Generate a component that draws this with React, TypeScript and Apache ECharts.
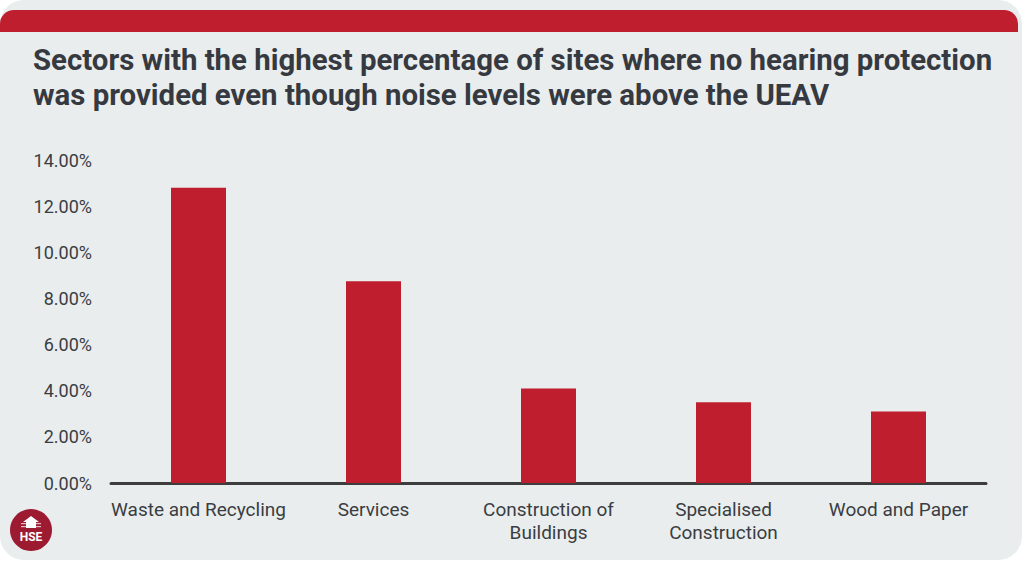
import React, { useEffect, useRef } from "react";
import * as echarts from "echarts";

const categories = [
  "Waste and Recycling",
  "Services",
  "Construction of\nBuildings",
  "Specialised\nConstruction",
  "Wood and Paper",
];
const percentages = [12.8, 8.75, 4.1, 3.5, 3.1];
const yTicks = { min: 0, max: 14, interval: 2 };

const RED = "#be1e2d";
const TEXT = "#3a3d42";

const App = () => {
  const chartRef = useRef<HTMLDivElement>(null);

  useEffect(() => {
    if (!chartRef.current) return;
    const chart = echarts.init(chartRef.current, null, { renderer: "svg" });

    const option: echarts.EChartsCoreOption = {
      animation: false,
      backgroundColor: "#ffffff",
      title: {
        text: "Sectors with the highest percentage of sites where no hearing protection\nwas provided even though noise levels were above the UEAV",
        left: 33,
        top: 42,
        padding: 0,
        textStyle: {
          fontFamily: "Roboto",
          fontWeight: "bold",
          fontSize: 29.4,
          lineHeight: 35,
          color: "#363a40",
        },
      },
      graphic: [
        {
          type: "rect",
          z: -10,
          shape: { x: 0, y: 0, width: 1022, height: 560, r: 24 },
          style: { fill: "#e9edee" },
        },
        {
          type: "rect",
          z: -9,
          shape: { x: 0, y: 10, width: 1018, height: 22, r: [14, 14, 0, 0] },
          style: { fill: RED },
        },
        {
          type: "group",
          left: 10,
          top: 509,
          children: [
            {
              type: "circle",
              shape: { cx: 21, cy: 21, r: 21 },
              style: { fill: "#9c1b31" },
            },
            {
              type: "polygon",
              shape: {
                points: [
                  [21, 7],
                  [29, 13],
                  [26, 13],
                  [26, 19],
                  [16, 19],
                  [16, 13],
                  [13, 13],
                ],
              },
              style: { fill: "#ffffff" },
            },
            {
              type: "rect",
              shape: { x: 11, y: 14, width: 20, height: 1.2 },
              style: { fill: "#ffffff", opacity: 0.7 },
            },
            {
              type: "rect",
              shape: { x: 11, y: 17, width: 20, height: 1.2 },
              style: { fill: "#ffffff", opacity: 0.7 },
            },
            {
              type: "text",
              style: {
                x: 21,
                y: 28,
                text: "HSE",
                fill: "#ffffff",
                font: "bold 12px Roboto",
                align: "center",
                verticalAlign: "middle",
              },
            },
          ],
        },
      ],
      grid: {
        left: 111,
        right: 38,
        top: 160,
        bottom: 79,
        containLabel: false,
      },
      xAxis: {
        type: "category",
        data: categories,
        axisLine: { show: true, lineStyle: { color: "#3d3d3d", width: 3 } },
        axisTick: { show: false },
        axisLabel: {
          margin: 15,
          fontFamily: "Roboto",
          fontSize: 19,
          lineHeight: 23,
          color: TEXT,
          interval: 0,
        },
      },
      yAxis: {
        type: "value",
        min: yTicks.min,
        max: yTicks.max,
        interval: yTicks.interval,
        axisLine: { show: false },
        axisTick: { show: false },
        splitLine: { show: false },
        axisLabel: {
          margin: 19,
          fontFamily: "Roboto",
          fontSize: 18,
          color: TEXT,
          formatter: (v: number) => v.toFixed(2) + "%",
        },
      },
      series: [
        {
          type: "bar",
          data: percentages,
          barWidth: 55,
          itemStyle: { color: RED },
        },
      ],
    };

    chart.setOption(option);
    return () => {
      chart.dispose();
    };
  }, []);

  return (
    <div
      ref={chartRef}
      style={{ position: "fixed", left: 0, top: 0, width: 1024, height: 562 }}
    />
  );
};

export default App;
